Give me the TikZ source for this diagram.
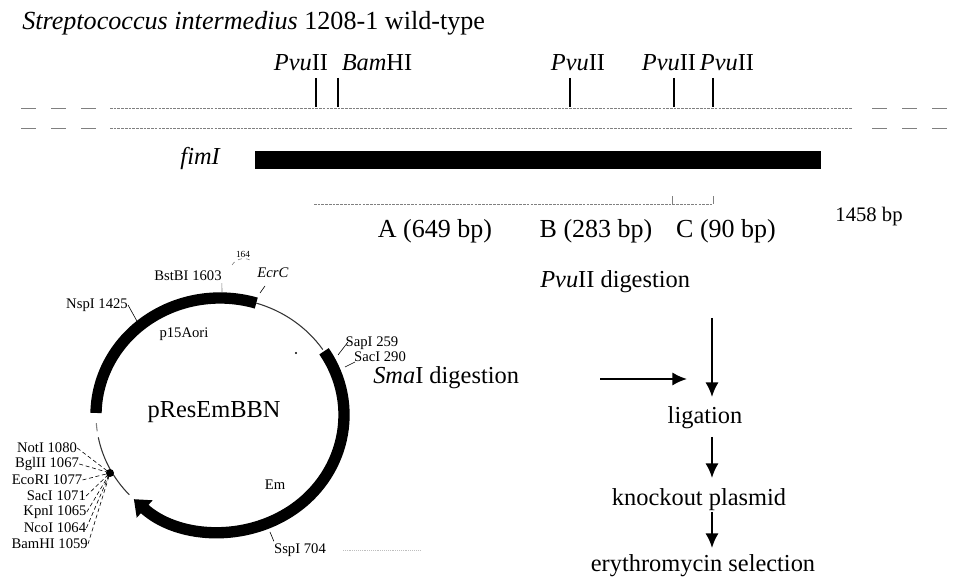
\documentclass[tikz,border=0pt]{standalone}
\usepackage{fontspec}
\setmainfont{Liberation Serif}
\usetikzlibrary{arrows.meta, positioning, calc}
\tikzstyle{every node}=[inner sep=0pt]
\tikzstyle{big}=[font=\fontsize{18.3}{21}\selectfont]
\tikzstyle{small}=[font=\fontsize{11}{12}\selectfont]
\tikzstyle{dna}=[gray, line width=.6pt, dash pattern=on 2pt off .8pt]
\tikzstyle{dnagap}=[gray, line width=.6pt, dash pattern=on 11.25pt off 11.25pt]
\tikzstyle{site}=[line width=1.9pt]
\tikzstyle{leader}=[line width=.45pt]
\tikzstyle{thin ring}=[line width=.8pt, black!80]
\tikzstyle{thick ring}=[line width=8.5pt]
\tikzstyle{flow}=[line width=1.6pt, -{Latex[length=11pt,width=10pt]}]
\newcommand{\enz}[1]{\textit{#1}II}
\begin{document}
\begin{tikzpicture}[x=.75pt,y=.75pt,node distance=12pt]
    \useasboundingbox (0,0) rectangle (953,580);
    \node[font=\fontsize{19.6}{22}\selectfont, anchor=west] (title) at (22,557) {\textit{Streptococcus intermedius} 1208-1 wild-type};
    % restriction sites
    \node[big] (pvu1) at (301,517) {\enz{Pvu}};
    \node[big] (bam) at (377,517) {\textit{Bam}HI};
    \node[big] (pvu2) at (578,517) {\enz{Pvu}};
    \node[big] (pvu3) at (669,517) {\enz{Pvu}};
    \node[big] (pvu4) at (727,517) {\enz{Pvu}};
    \foreach \name/\x in {a/316, b/338, c/570, d/674, e/713} {
        \coordinate (\name1) at (\x,502);
        \coordinate (\name2) at (\x,473);
        \draw[site] (\name1) -- (\name2);
    }
    % chromosome
    \foreach \name/\y in {up/472, lo/452} {
        \coordinate (\name l) at (21,\y);
        \coordinate (\name m) at (96,\y);
        \coordinate (\name a) at (110,\y);
        \coordinate (\name b) at (852,\y);
        \coordinate (\name n) at (872,\y);
        \coordinate (\name r) at (948,\y);
        \draw[dnagap] (\name l) -- (\name m);
        \draw[dna] (\name a) -- (\name b);
        \draw[dnagap] (\name n) -- (\name r);
    }
    \node[big, anchor=east] (fimlabel) at (221,421) {\textit{fimI}};
    \node[fill=black, minimum width=425pt, minimum height=13.5pt] (fimbar) at (538,420) {};
    % fragments
    \coordinate (fa) at (314,376);
    \coordinate (fb) at (672,376);
    \coordinate (fc) at (713,376);
    \coordinate (fbt) at (672,384);
    \coordinate (fct) at (713,384);
    \draw[dna] (fa) -- (fc);
    \draw[leader, gray] (fb) -- (fbt);
    \draw[leader, gray] (fc) -- (fct);
    \node[font=\fontsize{19.5}{22}\selectfont] (fragA) at (435,349) {A (649 bp)};
    \node[font=\fontsize{19.5}{22}\selectfont] (fragB) at (596,349) {B (283 bp)};
    \node[font=\fontsize{19.5}{22}\selectfont] (fragC) at (726,349) {C (90 bp)};
    \node[font=\fontsize{15.5}{18}\selectfont] (total) at (869,363) {1458 bp};
    % workflow
    \node[big, anchor=west] (pvud) at (540,298) {\textit{Pvu}II digestion};
    \node[big, anchor=west] (smad) at (373,202) {\textit{Sma}I digestion};
    \node[big] (lig) at (705,162) {ligation};
    \node[big] (ko) at (699,80) {knockout plasmid};
    \node[big] (ery) at (703,14) {erythromycin selection};
    \coordinate (pvuend) at (712,262);
    \coordinate (smaend) at (600,201);
    \coordinate (sm) at (687,201);
    \coordinate (l1) at (712,183);
    \coordinate (l2) at (712,143);
    \coordinate (k1) at (712,102);
    \coordinate (k2) at (712,68);
    \coordinate (e1) at (712,32);
    \draw[flow] (pvuend) -- (l1);
    \draw[flow] (smaend) -- (sm);
    \draw[flow] (l2) -- (k1);
    \draw[flow] (k2) -- (e1);
    % plasmid
    \coordinate (c) at (220,165);
    \node[big] (pname) at (214,168) {pResEmBBN};
    \draw[thick ring] ($(c)+(179:124 and 117)$) arc[start angle=179, end angle=73, x radius=124, y radius=117];
    \draw[thin ring] ($(c)+(73:124 and 117)$) arc[start angle=73, end angle=34, x radius=124, y radius=117];
    \draw[thick ring, -{Triangle[length=11pt,width=17pt]}] ($(c)+(33:124 and 117)$) arc[start angle=33, end angle=-134, x radius=124, y radius=117];
    \draw[thin ring] ($(c)+(-137:124 and 117)$) arc[start angle=-137, end angle=-169, x radius=124, y radius=117];
    \draw[thin ring, gray] ($(c)+(-176:124 and 117)$) arc[start angle=-176, end angle=-172, x radius=124, y radius=117];
    \node[small] (ori) at (184,246) {p15Aori};
    \node[small] (em) at (275,95) {Em};
    \node[small] (nsp) at (97,275) {NspI 1425};
    \node[small] (bst) at (188,304) {BstBI 1603};
    \node[small, font=\fontsize{7}{8}\selectfont] (ide) at (243,326) {164};
    \node[small] (ecr) at (273,307) {\textit{EcrC}};
    \node[small] (sap) at (372,237) {SapI 259};
    \node[small] (sac) at (380,223) {SacI 290};
    \node[small] (ssp) at (300,30) {SspI 704};
    \coordinate (nspring) at (138,257);
    \coordinate (bstring) at (222,288);
    \coordinate (ecrring) at (260,287);
    \coordinate (sapring) at (338,225);
    \coordinate (sacring) at (345,213);
    \coordinate (sspring) at (270,48);
    \coordinate (sapfoot) at (348,238);
    \coordinate (sacfoot) at (355,218);
    \coordinate (ecrtop) at (265,294);
    \coordinate (idel) at (232,315);
    \coordinate (ider) at (253,318);
    \coordinate (fainta) at (343,30);
    \coordinate (faintb) at (420,30);
    \draw[leader] (nsp.east) -- (nspring);
    \draw[leader, gray] (bst.south east) ++(0,-2) -- (bstring);
    \draw[leader] (ecrtop) -- (ecrring);
    \draw[leader] (sapfoot) -- (sapring);
    \draw[leader] (sacfoot) -- (sacring);
    \draw[leader] (ssp.north west) ++(0,2) -- (sspring);
    \draw[leader, gray, dashed] (idel) to[bend left=50] (ider);
    \draw[gray!50, densely dotted] (fainta) -- (faintb);
    % cloning sites
    \coordinate (mcs) at (110,107);
    \fill (mcs) circle (3pt);
    \node[small] (not) at (47,132) {NotI 1080};
    \node[small, below of=not] (bgl) {BglII 1067};
    \node[small, below of=bgl] (eco) {EcoRI 1077};
    \node[small, below of=eco, xshift=7] (sac2) {SacI 1071};
    \node[small, below of=sac2, xshift=-1] (kpn) {KpnI 1065};
    \node[small, below of=kpn] (nco) {NcoI 1064};
    \node[small, below of=nco, xshift=-4] (hind) {BamHI 1059};
    \foreach \lab in {not, bgl, eco, sac2, kpn, nco, hind}
        \draw[leader, densely dashed] (\lab.east) -- (mcs);
    \coordinate (dot) at (296,227);
    \fill (dot) circle (.8pt);
\end{tikzpicture}
\end{document}
